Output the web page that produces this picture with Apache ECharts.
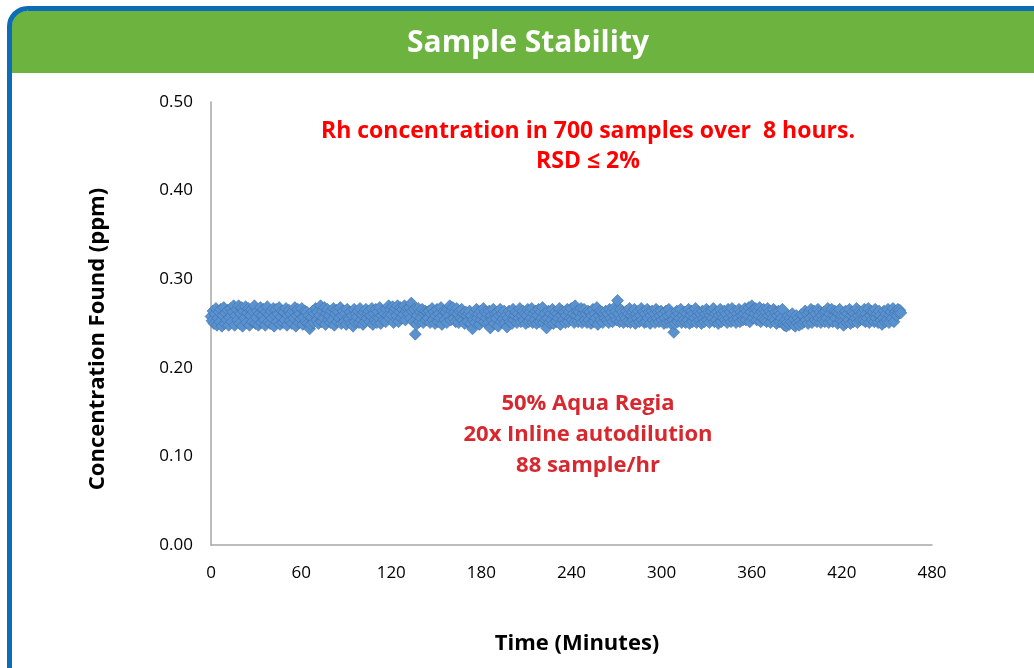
<!DOCTYPE html>
<html>
<head>
<meta charset="utf-8">
<script src="https://cdn.jsdelivr.net/npm/echarts@6/dist/echarts.min.js"></script>
<style>html,body{margin:0;padding:0;background:#fff;}#c{width:1034px;height:668px;}</style>
</head>
<body>
<div id="c"></div>
<script>
// Rh concentration readings (ppm x 1000), 700 samples in order
const readingsMilli = [
258,253,264,250,261,267,248,256,263,252,266,247,259,268,250,262,254,265,248,257,
267,252,263,270,248,259,266,254,270,250,261,268,247,264,256,269,251,262,267,248,
259,266,252,263,270,250,257,264,248,261,268,251,259,266,254,248,263,269,252,260,
250,264,256,267,247,259,266,252,261,268,249,257,264,251,263,254,267,248,259,265,
253,261,250,264,256,268,247,259,266,251,261,255,267,249,257,264,252,263,250,259,
244,249,257,264,251,261,267,254,263,250,259,270,252,264,256,268,249,261,266,254,
259,251,264,254,267,248,261,265,252,263,256,268,250,259,264,252,261,249,266,257,
255,263,250,259,247,266,252,261,257,264,251,267,254,260,249,263,252,266,256,261,
264,252,259,267,249,261,254,266,251,263,256,268,250,259,264,254,261,252,266,259,
270,256,266,260,269,251,264,267,259,270,252,263,268,256,266,260,270,254,264,267,
261,268,256,273,264,252,266,238,249,259,267,252,263,256,266,251,261,264,254,263,
256,264,251,261,267,254,263,250,259,266,252,261,256,268,249,259,264,254,263,251,
266,259,270,254,264,268,256,263,252,267,261,251,264,256,266,254,261,250,263,259,
252,261,264,250,259,244,254,263,251,266,256,261,249,264,254,259,267,252,263,256,
261,251,264,245,259,254,266,250,261,256,263,247,259,266,252,261,255,264,251,259,
246,256,264,252,261,250,266,254,259,263,251,261,256,267,252,259,264,254,261,250,
259,266,252,263,256,267,251,261,254,264,250,259,266,252,263,256,268,251,261,254,
245,256,264,251,261,254,266,250,259,263,252,261,256,267,249,259,264,254,263,251,
259,266,252,263,256,267,254,261,251,270,259,264,252,263,256,267,251,261,266,254,
261,251,264,254,263,250,259,266,252,261,256,268,249,259,264,254,263,251,261,256,
264,254,261,251,266,256,263,252,267,259,264,254,276,261,252,266,256,263,251,259,
256,264,252,261,267,251,259,263,254,266,250,261,256,264,252,259,267,254,263,251,
261,252,266,256,263,250,259,264,254,261,251,266,256,263,252,259,264,254,261,250,
256,264,251,259,266,252,261,249,254,240,250,259,264,252,261,256,266,251,259,254,
263,251,261,254,266,250,259,264,252,261,256,267,251,259,263,254,261,250,264,256,
252,261,266,254,263,251,259,264,256,267,252,261,254,263,250,259,266,252,261,256,
264,254,261,251,266,256,263,252,267,259,254,264,251,261,256,266,252,263,259,254,
261,267,254,264,259,268,252,263,270,256,266,261,267,254,264,259,268,252,263,256,
266,254,263,252,267,259,264,251,261,256,266,254,263,250,259,264,252,261,256,266,
251,248,254,247,251,259,249,256,252,261,249,255,247,259,251,256,248,253,260,250,
259,252,264,254,261,250,263,256,266,251,259,264,254,261,252,266,256,263,251,259,
254,263,252,264,256,267,251,261,254,266,252,259,264,256,263,250,261,266,254,259,
252,248,259,264,251,261,254,266,250,259,263,252,261,256,267,251,259,264,254,261,
263,254,266,252,261,256,267,251,259,264,254,263,252,266,256,261,251,264,259,254,
249,256,264,252,261,254,266,251,259,263,256,267,252,261,264,259,266,262,265,262
];
const sampleIntervalMin = 0.657; // minutes between samples
const xTicks = [0, 60, 120, 180, 240, 300, 360, 420, 480];
const yTicks = [0, 0.1, 0.2, 0.3, 0.4, 0.5];
const titleText = 'Sample Stability';
const note1 = ['Rh concentration in 700 samples over  8 hours.', 'RSD \u2264 2%'];
const note2 = ['50% Aqua Regia', '20x Inline autodilution', '88 sample/hr'];
const xTitle = 'Time (Minutes)';
const yTitle = 'Concentration Found (ppm)';

const seriesData = readingsMilli.map((v, i) => [i * sampleIntervalMin, v / 1000]);
const FONT = '"Open Sans", Lato, sans-serif';

const chart = echarts.init(document.getElementById('c'), null, {renderer: 'canvas'});
chart.setOption({
  animation: false,
  backgroundColor: '#ffffff',
  grid: {left: 211, right: 102, top: 102, bottom: 123, containLabel: false},
  xAxis: {
    type: 'value', min: xTicks[0], max: xTicks[xTicks.length - 1], interval: 60,
    axisLine: {show: true, lineStyle: {color: '#a6a6a6', width: 1.5}},
    axisTick: {show: false},
    splitLine: {show: false},
    axisLabel: {color: '#000', fontSize: 17, fontFamily: FONT, margin: 20}
  },
  yAxis: {
    type: 'value', min: yTicks[0], max: yTicks[yTicks.length - 1], interval: 0.1,
    axisLine: {show: true, lineStyle: {color: '#a6a6a6', width: 1.5}},
    axisTick: {show: false},
    splitLine: {show: false},
    axisLabel: {color: '#000', fontSize: 17, fontFamily: FONT, margin: 18, formatter: v => v.toFixed(2)}
  },
  series: [{
    type: 'scatter',
    data: seriesData,
    symbol: 'diamond',
    symbolSize: 12,
    itemStyle: {color: '#5a92d0', borderColor: '#3e70a6', borderWidth: 0.6, opacity: 1}
  }],
  graphic: [
    {type: 'rect', z: 0, shape: {x: 12, y: 11, width: 1040, height: 62, r: [14, 14, 0, 0]}, style: {fill: '#6db33f'}},
    {type: 'rect', z: 100, shape: {x: 9.5, y: 8.5, width: 1045, height: 720, r: 18}, style: {fill: 'none', stroke: '#0d6cb6', lineWidth: 5}},
    {type: 'text', z: 101, style: {text: titleText, x: 528, y: 43, textAlign: 'center', textVerticalAlign: 'middle', fill: '#ffffff', font: 'bold 30px ' + FONT}},
    {type: 'text', z: 101, style: {text: note1.join('\n'), x: 588, y: 146, textAlign: 'center', textVerticalAlign: 'middle', fill: '#ff0000', font: 'bold 23px ' + FONT, lineHeight: 30}},
    {type: 'text', z: 101, style: {text: note2.join('\n'), x: 588, y: 435, textAlign: 'center', textVerticalAlign: 'middle', fill: '#d7282f', font: 'bold 22px ' + FONT, lineHeight: 31}},
    {type: 'text', z: 101, style: {text: xTitle, x: 577, y: 644, textAlign: 'center', textVerticalAlign: 'middle', fill: '#000', font: 'bold 22px ' + FONT}},
    {type: 'text', z: 101, rotation: Math.PI / 2, x: 98, y: 339, style: {text: yTitle, x: 0, y: 0, textAlign: 'center', textVerticalAlign: 'middle', fill: '#000', font: 'bold 22px ' + FONT}}
  ]
});
</script>
</body>
</html>
